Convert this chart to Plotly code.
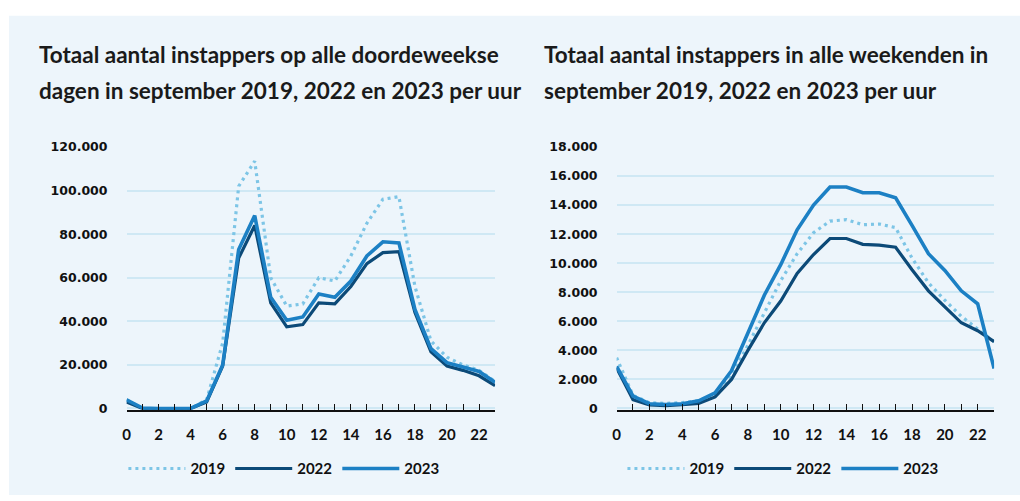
import plotly.graph_objects as go

hours = list(range(24))
xtick_text = [str(h) if h % 2 == 0 else "" for h in hours]

years = ["2019", "2022", "2023"]

# Weekdays (doordeweekse dagen)
wd_2019 = [4000, 0, 0, 0, 0, 4000, 30000, 102000, 113500, 60000, 47000, 48000,
           60000, 58500, 70000, 85000, 96000, 97200, 56000, 31000, 23500, 20000, 17500, 12400]
wd_2022 = [3000, 0, 0, 0, 0, 3000, 19500, 69000, 84000, 48500, 37500, 38500,
           48500, 48000, 56000, 66500, 71500, 72000, 44000, 26000, 19500, 17500, 15000, 10500]
wd_2023 = [4000, 200, 0, 0, 0, 3500, 20000, 73000, 88500, 51000, 40500, 42000,
           52500, 51000, 58500, 70000, 76500, 76000, 45500, 27500, 21000, 19000, 17000, 12000]

# Weekends
we_2019 = [3500, 900, 400, 350, 400, 530, 1000, 2300, 4350, 6600, 8800, 10650,
           12100, 12900, 13000, 12650, 12700, 12450, 10350, 8650, 7450, 6350, 5450, 4600]
we_2022 = [2800, 600, 250, 200, 270, 350, 800, 2000, 4000, 5900, 7400, 9300,
           10600, 11700, 11700, 11300, 11250, 11100, 9550, 8100, 7000, 5900, 5350, 4600]
we_2023 = [2900, 850, 330, 270, 330, 530, 1070, 2600, 5200, 7800, 9900, 12300,
           14000, 15250, 15250, 14850, 14850, 14500, 12600, 10650, 9500, 8100, 7200, 2750]

title_left = ["Totaal aantal instappers op alle doordeweekse",
              "dagen in september 2019, 2022 en 2023 per uur"]
title_right = ["Totaal aantal instappers in alle weekenden in",
               "september 2019, 2022 en 2023 per uur"]

colors = {"2019": "#7DC5E6", "2022": "#0C4A78", "2023": "#1C80C4"}
widths = {"2019": 3.2, "2022": 3.2, "2023": 3.6}
dashes = {"2019": "3px,4px", "2022": "solid", "2023": "solid"}

W, H = 1020, 501
BG = "#EDF5FB"

fig = go.Figure()

for yr, vals in zip(years, [wd_2019, wd_2022, wd_2023]):
    fig.add_trace(go.Scatter(x=hours, y=vals, mode="lines", name=yr,
                             line=dict(color=colors[yr], width=widths[yr], dash=dashes[yr]),
                             xaxis="x", yaxis="y", legend="legend"))
for yr, vals in zip(years, [we_2019, we_2022, we_2023]):
    fig.add_trace(go.Scatter(x=hours, y=vals, mode="lines", name=yr,
                             line=dict(color=colors[yr], width=widths[yr], dash=dashes[yr]),
                             xaxis="x2", yaxis="y2", legend="legend2"))

ytop = 1 - 143 / H
ybot_l = 1 - (412 + 600 * 269 / 120000) / H
ybot_r = 1 - (412 + 90 * 269 / 18000) / H

xfont = dict(family="Lato", size=15, color="#111111", weight=700)
yfont = dict(family="DejaVu Sans", size=12.5, color="#111111", weight=700)

xcommon = dict(range=[0, 23], tickmode="array", tickvals=hours, ticktext=xtick_text,
               ticks="inside", ticklen=6, tickwidth=1.3, tickcolor="#111111",
               showline=True, linecolor="#111111", linewidth=1.5, showgrid=False,
               zeroline=False, tickfont=xfont, ticklabelstandoff=10)
ycommon = dict(showgrid=True, gridcolor="#CFE8F4", gridwidth=2, zeroline=False,
               showline=False, ticks="", tickfont=yfont, tickformat=",d",
               ticklabelstandoff=18)

legfont = dict(family="Lato", size=15, color="#111111", weight=700)

fig.update_layout(
    width=W, height=H,
    margin=dict(l=0, r=0, t=0, b=0),
    paper_bgcolor="white", plot_bgcolor="rgba(0,0,0,0)",
    separators=",.",
    xaxis=dict(domain=[123 / W, 493 / W], anchor="y", **xcommon),
    yaxis=dict(domain=[ybot_l, ytop], anchor="x", range=[-600, 120000], dtick=20000, **ycommon),
    xaxis2=dict(domain=[615 / W, 994 / W], anchor="y2", **xcommon),
    yaxis2=dict(domain=[ybot_r, ytop], anchor="x2", range=[-90, 18000], dtick=2000, **ycommon),
    legend=dict(orientation="h", x=281 / W, xanchor="center", y=1 - 474 / H, yanchor="middle",
                font=legfont, bgcolor="rgba(0,0,0,0)", itemwidth=57, tracegroupgap=0),
    legend2=dict(orientation="h", x=782 / W, xanchor="center", y=1 - 474 / H, yanchor="middle",
                 font=legfont, bgcolor="rgba(0,0,0,0)", itemwidth=57, tracegroupgap=0),
    shapes=[dict(type="rect", xref="paper", yref="paper", x0=5 / W, x1=1, y0=0, y1=1 - 8 / H,
                 fillcolor=BG, line=dict(width=0), layer="below")],
)

tfont = dict(family="Lato", size=22.5, color="#1a1a1a", weight=700)
for i, line in enumerate(title_left):
    fig.add_annotation(text=line, xref="paper", yref="paper", x=33 / W, y=1 - (48 + 37 * i) / H,
                       xanchor="left", yanchor="middle", showarrow=False, font=tfont)
for i, line in enumerate(title_right):
    fig.add_annotation(text=line, xref="paper", yref="paper", x=540 / W, y=1 - (48 + 37 * i) / H,
                       xanchor="left", yanchor="middle", showarrow=False, font=tfont)

fig.write_html("out.html", config={"displayModeBar": False},
               post_script="document.body.style.margin='0';document.body.style.overflow='hidden';")
